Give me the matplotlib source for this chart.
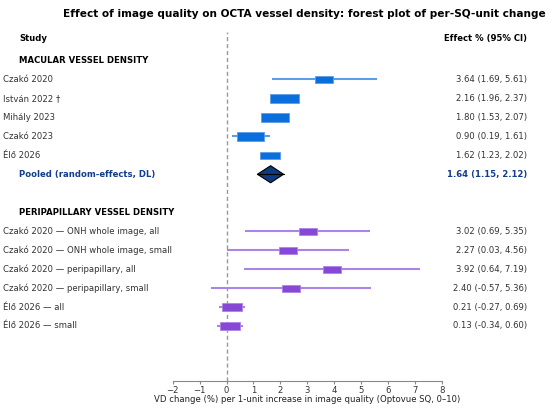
import matplotlib
matplotlib.use("Agg")
import matplotlib.pyplot as plt
from matplotlib.patches import Rectangle, Polygon
from matplotlib.transforms import blended_transform_factory

title = "Effect of image quality on OCTA vessel density: forest plot of per-SQ-unit change"

mac_labels = ["Czakó 2020", "István 2022 †", "Mihály 2023", "Czakó 2023", "Élő 2026"]
mac_est = [3.64, 2.16, 1.80, 0.90, 1.62]
mac_lo = [1.69, 1.96, 1.53, 0.19, 1.23]
mac_hi = [5.61, 2.37, 2.07, 1.61, 2.02]
mac_weight = [8, 30, 28, 26, 11]

pooled_label = "Pooled (random-effects, DL)"
pooled_est, pooled_lo, pooled_hi = 1.64, 1.15, 2.12

peri_labels = ["Czakó 2020 — ONH whole image, all",
               "Czakó 2020 — ONH whole image, small",
               "Czakó 2020 — peripapillary, all",
               "Czakó 2020 — peripapillary, small",
               "Élő 2026 — all",
               "Élő 2026 — small"]
peri_est = [3.02, 2.27, 3.92, 2.40, 0.21, 0.13]
peri_lo = [0.69, 0.03, 0.64, -0.57, -0.27, -0.34]
peri_hi = [5.35, 4.56, 7.19, 5.36, 0.69, 0.60]
peri_weight = [8, 8, 8, 8, 11, 11]

xticks = [-2, -1, 0, 1, 2, 3, 4, 5, 6, 7, 8]

fig = plt.figure(figsize=(5.5, 4.08), dpi=100)
ax = fig.add_axes([172.7/550, 27/408, 269/550, 349/408])
ax.set_xlim(-2, 8)
ax.set_ylim(16.9, -1.5)

PX = 26.9   # px per x unit
PY = 19.0   # px per row

def box_dims(w):
    wpx = 18 + (w - 8) / 22 * 11
    hpx = 7 + (w - 8) / 22 * 2
    return wpx / PX, hpx / PY

blue_box, blue_line = "#0a6edc", "#5c9de8"
purp_box, purp_line = "#8748d6", "#ab84e8"
text_c = "#333333"

ax.axvline(0, color="#999999", lw=1, ls=(0, (3, 2)), zorder=1)

def draw_rows(start, est, lo, hi, wts, bc, lc):
    for i, (e, l, h, w) in enumerate(zip(est, lo, hi, wts)):
        y = start + i
        ax.plot([l, h], [y, y], color=lc, lw=1.5, solid_capstyle="butt", zorder=2)
        bw, bh = box_dims(w)
        ax.add_patch(Rectangle((e - bw/2, y - bh/2), bw, bh, facecolor=bc,
                               edgecolor=lc, lw=0.6, zorder=3))

draw_rows(1, mac_est, mac_lo, mac_hi, mac_weight, blue_box, blue_line)
draw_rows(9, peri_est, peri_lo, peri_hi, peri_weight, purp_box, purp_line)

yp = 6
dh = 0.45
ax.add_patch(Polygon([(pooled_lo, yp), (pooled_est, yp - dh), (pooled_hi, yp), (pooled_est, yp + dh)],
                     closed=True, facecolor="#0d3a80", edgecolor="black", lw=0.8, zorder=4))
ax.plot([pooled_lo, pooled_hi], [yp, yp], color="black", lw=0.8, zorder=5)

for s in ["top", "left", "right"]:
    ax.spines[s].set_visible(False)
ax.spines["bottom"].set_color("#888888")
ax.set_yticks([])
ax.set_xticks(xticks)
ax.set_xticklabels([("−%d" % -t) if t < 0 else str(t) for t in xticks])
fs = 6.1
ax.tick_params(axis="x", labelsize=fs, colors="#333333", length=2.5, color="#888888", pad=1)
ax.set_xlabel("VD change (%) per 1-unit increase in image quality (Optovue SQ, 0–10)",
              fontsize=fs, color="#222222", labelpad=0)

tr = blended_transform_factory(fig.transFigure, ax.transData)
xl, xh, xr = 3/550, 19/550, 527/550

ax.text(xh, -1.15, "Study", transform=tr, fontsize=fs, fontweight="bold", va="center", ha="left")
ax.text(xr, -1.15, "Effect % (95% CI)", transform=tr, fontsize=fs, fontweight="bold", va="center", ha="right")
ax.text(xh, 0, "MACULAR VESSEL DENSITY", transform=tr, fontsize=fs, fontweight="bold", va="center", ha="left")
ax.text(xh, 8, "PERIPAPILLARY VESSEL DENSITY", transform=tr, fontsize=fs, fontweight="bold", va="center", ha="left")

def row_texts(start, labels, est, lo, hi):
    for i, (lab, e, l, h) in enumerate(zip(labels, est, lo, hi)):
        y = start + i
        ax.text(xl, y, lab, transform=tr, fontsize=fs, color=text_c, va="center", ha="left")
        ax.text(xr, y, f"{e:.2f} ({l:.2f}, {h:.2f})", transform=tr, fontsize=fs,
                color=text_c, va="center", ha="right")

row_texts(1, mac_labels, mac_est, mac_lo, mac_hi)
row_texts(9, peri_labels, peri_est, peri_lo, peri_hi)

navy = "#123c8c"
ax.text(xh, yp, pooled_label, transform=tr, fontsize=fs, fontweight="bold", color=navy, va="center", ha="left")
ax.text(xr, yp, f"{pooled_est:.2f} ({pooled_lo:.2f}, {pooled_hi:.2f})", transform=tr, fontsize=fs,
        fontweight="bold", color=navy, va="center", ha="right")

fig.text(0.553, 1 - 14/408, title, fontsize=7.6, fontweight="bold", ha="center", va="center")

fig.savefig("out.png", dpi=100)
